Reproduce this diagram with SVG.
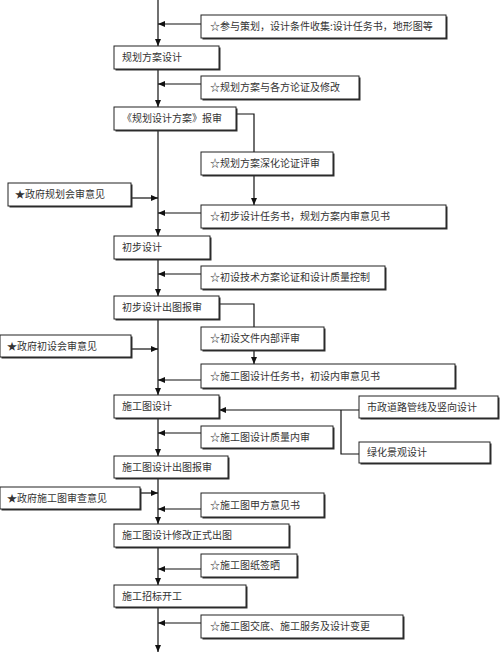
<svg xmlns="http://www.w3.org/2000/svg" width="500" height="654" viewBox="0 0 500 654">
<style>
.b{fill:#fff;stroke:#222;stroke-width:1}
.s{fill:#333}
.t{font-family:"Noto Sans CJK SC","Liberation Serif",serif;font-size:10px;fill:#333}
.c{fill:none;stroke:#111;stroke-width:1.2}
</style>
<defs>
<marker id="a" markerUnits="userSpaceOnUse" markerWidth="8" markerHeight="8" refX="7" refY="4" orient="auto">
<path d="M0,1 L7,4 L0,7 Z" fill="#111"/>
</marker>
</defs>
<g id="connectors">
<path class="c" d="M158,0 V46" marker-end="url(#a)"/>
<path class="c" d="M158,69 V107" marker-end="url(#a)"/>
<path class="c" d="M158,130 V236" marker-end="url(#a)"/>
<path class="c" d="M158,259 V296" marker-end="url(#a)"/>
<path class="c" d="M158,319 V395" marker-end="url(#a)"/>
<path class="c" d="M158,418 V456" marker-end="url(#a)"/>
<path class="c" d="M158,478 V524" marker-end="url(#a)"/>
<path class="c" d="M158,547 V585" marker-end="url(#a)"/>
<path class="c" d="M158,607 V652" marker-end="url(#a)"/>
<path class="c" d="M201,24 H158" marker-end="url(#a)"/>
<path class="c" d="M201,84 H158" marker-end="url(#a)"/>
<path class="c" d="M236,114 H254 V152"/>
<path class="c" d="M254,175 V205" marker-end="url(#a)"/>
<path class="c" d="M201,213 H158" marker-end="url(#a)"/>
<path class="c" d="M131,198 H158" marker-end="url(#a)"/>
<path class="c" d="M201,274 H158" marker-end="url(#a)"/>
<path class="c" d="M219,304 H254 V327"/>
<path class="c" d="M254,350 V364" marker-end="url(#a)"/>
<path class="c" d="M131,349 H158" marker-end="url(#a)"/>
<path class="c" d="M201,380 H158" marker-end="url(#a)"/>
<path class="c" d="M359,410 H219" marker-end="url(#a)"/>
<path class="c" d="M341,410 V454 H359"/>
<path class="c" d="M201,433 H158" marker-end="url(#a)"/>
<path class="c" d="M140,493 H158" marker-end="url(#a)"/>
<path class="c" d="M201,509 H158" marker-end="url(#a)"/>
<path class="c" d="M201,569 H158" marker-end="url(#a)"/>
<path class="c" d="M201,623 H158" marker-end="url(#a)"/>
</g>
<g id="n1"><rect class="s" x="202.5" y="16.5" width="245" height="23"/><rect class="b" x="201" y="15" width="245" height="23"/><text class="t" x="210" y="30">☆参与策划，设计条件收集:设计任务书，地形图等</text></g>
<g id="n2"><rect class="s" x="115.5" y="47.5" width="105" height="23"/><rect class="b" x="114" y="46" width="105" height="23"/><text class="t" x="122" y="61">规划方案设计</text></g>
<g id="n3"><rect class="s" x="202.5" y="77.5" width="158" height="23"/><rect class="b" x="201" y="76" width="158" height="23"/><text class="t" x="210" y="91">☆规划方案与各方论证及修改</text></g>
<g id="n4"><rect class="s" x="115.5" y="108.5" width="122" height="23"/><rect class="b" x="114" y="107" width="122" height="23"/><text class="t" x="122" y="122">《规划设计方案》报审</text></g>
<g id="n5"><rect class="s" x="202.5" y="153.5" width="132" height="23"/><rect class="b" x="201" y="152" width="132" height="23"/><text class="t" x="210" y="167">☆规划方案深化论证评审</text></g>
<g id="n6"><rect class="s" x="9.5" y="184.5" width="123" height="23"/><rect class="b" x="8" y="183" width="123" height="23"/><text class="t" x="15" y="198">★政府规划会审意见</text></g>
<g id="n7"><rect class="s" x="202.5" y="206.5" width="245" height="23"/><rect class="b" x="201" y="205" width="245" height="23"/><text class="t" x="210" y="220">☆初步设计任务书，规划方案内审意见书</text></g>
<g id="n8"><rect class="s" x="115.5" y="237.5" width="96" height="23"/><rect class="b" x="114" y="236" width="96" height="23"/><text class="t" x="122" y="251">初步设计</text></g>
<g id="n9"><rect class="s" x="202.5" y="267.5" width="184" height="23"/><rect class="b" x="201" y="266" width="184" height="23"/><text class="t" x="210" y="281">☆初设技术方案论证和设计质量控制</text></g>
<g id="n10"><rect class="s" x="115.5" y="297.5" width="105" height="23"/><rect class="b" x="114" y="296" width="105" height="23"/><text class="t" x="122" y="311">初步设计出图报审</text></g>
<g id="n11"><rect class="s" x="202.5" y="328.5" width="123" height="23"/><rect class="b" x="201" y="327" width="123" height="23"/><text class="t" x="210" y="342">☆初设文件内部评审</text></g>
<g id="n12"><rect class="s" x="1.5" y="336.5" width="131" height="22"/><rect class="b" x="0" y="335" width="131" height="22"/><text class="t" x="7" y="350">★政府初设会审意见</text></g>
<g id="n13"><rect class="s" x="202.5" y="365.5" width="254" height="24"/><rect class="b" x="201" y="364" width="254" height="24"/><text class="t" x="210" y="380">☆施工图设计任务书，初设内审意见书</text></g>
<g id="n14"><rect class="s" x="115.5" y="396.5" width="105" height="23"/><rect class="b" x="114" y="395" width="105" height="23"/><text class="t" x="122" y="410">施工图设计</text></g>
<g id="n15"><rect class="s" x="360.5" y="397.5" width="139" height="22"/><rect class="b" x="359" y="396" width="139" height="22"/><text class="t" x="367" y="411">市政道路管线及竖向设计</text></g>
<g id="n16"><rect class="s" x="202.5" y="427.5" width="132" height="22"/><rect class="b" x="201" y="426" width="132" height="22"/><text class="t" x="210" y="441">☆施工图设计质量内审</text></g>
<g id="n17"><rect class="s" x="360.5" y="443.5" width="131" height="21"/><rect class="b" x="359" y="442" width="131" height="21"/><text class="t" x="367" y="456">绿化景观设计</text></g>
<g id="n18"><rect class="s" x="115.5" y="457.5" width="114" height="22"/><rect class="b" x="114" y="456" width="114" height="22"/><text class="t" x="122" y="471">施工图设计出图报审</text></g>
<g id="n19"><rect class="s" x="1.5" y="488.5" width="140" height="22"/><rect class="b" x="0" y="487" width="140" height="22"/><text class="t" x="7" y="502">★政府施工图审查意见</text></g>
<g id="n20"><rect class="s" x="202.5" y="494.5" width="123" height="24"/><rect class="b" x="201" y="493" width="123" height="24"/><text class="t" x="210" y="509">☆施工图甲方意见书</text></g>
<g id="n21"><rect class="s" x="115.5" y="525.5" width="175" height="23"/><rect class="b" x="114" y="524" width="175" height="23"/><text class="t" x="122" y="539">施工图设计修改正式出图</text></g>
<g id="n22"><rect class="s" x="202.5" y="555.5" width="96" height="23"/><rect class="b" x="201" y="554" width="96" height="23"/><text class="t" x="210" y="569">☆施工图纸签晒</text></g>
<g id="n23"><rect class="s" x="115.5" y="586.5" width="132" height="22"/><rect class="b" x="114" y="585" width="132" height="22"/><text class="t" x="122" y="600">施工招标开工</text></g>
<g id="n24"><rect class="s" x="202.5" y="616.5" width="202" height="23"/><rect class="b" x="201" y="615" width="202" height="23"/><text class="t" x="210" y="630">☆施工图交底、施工服务及设计变更</text></g>
</svg>
